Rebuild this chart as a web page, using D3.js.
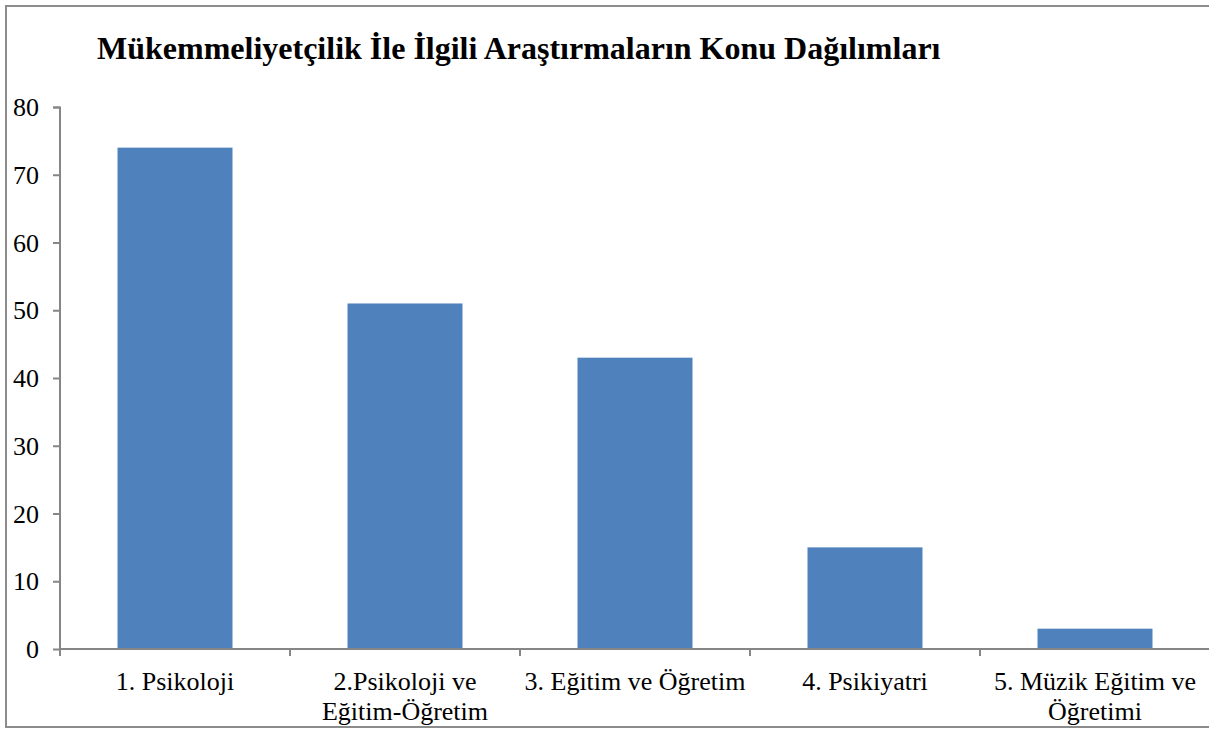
<!DOCTYPE html>
<html>
<head>
<meta charset="utf-8">
<script src="https://cdn.jsdelivr.net/npm/d3@7"></script>
<style>
body { margin: 0; background: #fff; }
svg { display: block; }
</style>
</head>
<body>
<svg id="chart" width="1209" height="729"></svg>
<script>
const titleText = "Mükemmeliyetçilik İle İlgili Araştırmaların Konu Dağılımları";
const categories = [
  ["1. Psikoloji"],
  ["2.Psikoloji ve", "Eğitim-Öğretim"],
  ["3. Eğitim ve Öğretim"],
  ["4. Psikiyatri"],
  ["5. Müzik Eğitim ve", "Öğretimi"]
];
const values = [74, 51, 43, 15, 3];
const yTicks = [0, 10, 20, 30, 40, 50, 60, 70, 80];

const svg = d3.select("#chart");
const font = "Liberation Serif, serif";
const axisColor = "#868686";

// outer frame
svg.append("rect")
  .attr("x", 6).attr("y", 6)
  .attr("width", 1220).attr("height", 721)
  .attr("fill", "none").attr("stroke", "#8c8c8c").attr("stroke-width", 2);

// title
svg.append("text")
  .attr("x", 97).attr("y", 59)
  .attr("font-family", font).attr("font-weight", "bold")
  .attr("font-size", 32).attr("fill", "#000")
  .text(titleText);

const x = d3.scaleBand()
  .domain(categories.map((d, i) => i))
  .range([60, 1210])
  .paddingInner(0.5).paddingOuter(0.25);

const y = d3.scaleLinear().domain([0, 80]).range([649, 107]);

// bars
svg.selectAll("rect.bar").data(values).enter().append("rect")
  .attr("class", "bar")
  .attr("x", (d, i) => x(i))
  .attr("y", d => y(d))
  .attr("width", x.bandwidth())
  .attr("height", d => y(0) - y(d))
  .attr("fill", "#4f81bd");

// y axis
const yAxis = d3.axisLeft(y).tickValues(yTicks).tickSize(7).tickPadding(14).tickFormat(d3.format("d"));
const gy = svg.append("g").attr("transform", "translate(60,0)").call(yAxis);
gy.select(".domain").attr("stroke", axisColor).attr("stroke-width", 2).attr("d", "M-7,107.5H0V649");
gy.selectAll(".tick line").attr("stroke", axisColor).attr("stroke-width", 2);
gy.selectAll(".tick text").attr("font-family", font).attr("font-size", 26).attr("fill", "#000").attr("dy", "0.33em");

// x axis
const step = x.step();
const xTickPos = d3.range(categories.length + 1).map(i => 60 + i * step);
svg.append("line")
  .attr("x1", 60).attr("x2", 1215)
  .attr("y1", 649).attr("y2", 649)
  .attr("stroke", axisColor).attr("stroke-width", 2);
svg.selectAll("line.xt").data(xTickPos).enter().append("line")
  .attr("class", "xt")
  .attr("x1", d => d).attr("x2", d => d)
  .attr("y1", 649).attr("y2", 656)
  .attr("stroke", axisColor).attr("stroke-width", 2);

// x labels
const labels = svg.selectAll("text.xl").data(categories).enter().append("text")
  .attr("class", "xl")
  .attr("font-family", font).attr("font-size", 26).attr("fill", "#000")
  .attr("text-anchor", "middle");
labels.each(function(lines, i) {
  const cx = x(i) + x.bandwidth() / 2;
  d3.select(this).selectAll("tspan").data(lines).enter().append("tspan")
    .attr("x", cx)
    .attr("y", (d, j) => 690 + j * 30)
    .text(d => d);
});
</script>
</body>
</html>
